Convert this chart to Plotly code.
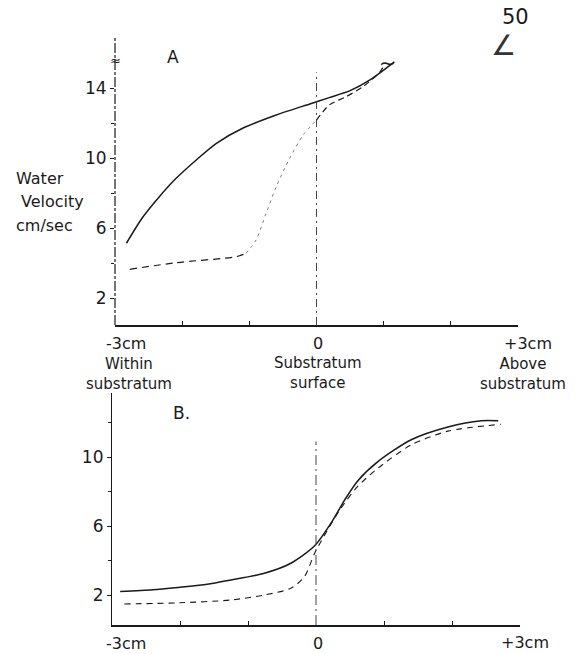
import plotly.graph_objects as go

# ---------------- data ----------------
# Panel A
a_solid_x = [-2.83, -2.59, -2.34, -2.09, -1.79, -1.49, -1.10, -0.60, -0.10, 0.19, 0.50, 0.79, 1.16]
a_solid_y = [5.13, 6.6, 7.79, 8.84, 9.89, 10.84, 11.70, 12.46, 13.09, 13.45, 13.85, 14.45, 15.5]

a_dash_x = [-2.78, -2.09, -1.20, -1.05]
a_dash_y = [3.64, 4.02, 4.36, 4.55]

a_dot_x = [-1.05, -0.90, -0.75, -0.60, -0.40, -0.20, 0.0]
a_dot_y = [4.55, 5.31, 6.84, 8.36, 9.98, 11.31, 12.17]

a_dash2_x = [0.0, 0.19, 0.44, 0.70, 0.94, 1.0]
a_dash2_y = [12.17, 13.03, 13.5, 14.1, 14.9, 15.25]

a_surface_y = [0.46, 14.9]

# Panel B
b_solid_x = [-2.88, -2.4, -2.0, -1.6, -1.25, -0.76, -0.37, -0.02, 0.22, 0.42, 0.61, 0.91, 1.40, 1.94, 2.43, 2.68]
b_solid_y = [2.2, 2.3, 2.45, 2.62, 2.87, 3.26, 3.84, 4.85, 6.16, 7.5, 8.6, 9.73, 11.0, 11.74, 12.1, 12.1]

b_dash_x = [-2.82, -2.0, -1.25, -0.76, -0.37, -0.17, -0.02, 0.17, 0.37, 0.61, 0.91, 1.40, 1.94, 2.72]
b_dash_y = [1.48, 1.55, 1.71, 2.0, 2.39, 3.06, 4.42, 5.77, 7.05, 8.28, 9.35, 10.7, 11.5, 11.9]

b_surface_y = [0.26, 10.9]

y_ticks = [2, 6, 10, 14]
y_minor = [4, 8, 12]
b_y_ticks = [2, 6, 10]
x_minor = [-2, -1, 1, 2]

W, H = 578, 654
FONT = "DejaVu Sans"
INK = "#1a1a1a"


def px(x):
    return x / W


def py(y):
    return 1 - y / H


fig = go.Figure()

spl = dict(shape="spline", smoothing=0.75)

# Panel A traces
fig.add_trace(go.Scatter(x=a_solid_x, y=a_solid_y, mode="lines", line=dict(color=INK, width=1.5, **spl),
                         xaxis="x", yaxis="y"))
fig.add_trace(go.Scatter(x=a_dash_x, y=a_dash_y, mode="lines", line=dict(color=INK, width=1.2, dash="7px,5px", **spl),
                         xaxis="x", yaxis="y"))
fig.add_trace(go.Scatter(x=a_dot_x, y=a_dot_y, mode="lines", line=dict(color="#808080", width=1.0, dash="3px,4px", **spl),
                         xaxis="x", yaxis="y"))
fig.add_trace(go.Scatter(x=a_dash2_x, y=a_dash2_y, mode="lines", line=dict(color=INK, width=1.2, dash="6px,4px", **spl),
                         xaxis="x", yaxis="y"))
fig.add_trace(go.Scatter(x=[0, 0], y=a_surface_y, mode="lines", line=dict(color="#444444", width=1.0, dash="8px,4px,2px,4px"),
                         xaxis="x", yaxis="y"))

# Panel B traces
fig.add_trace(go.Scatter(x=b_solid_x, y=b_solid_y, mode="lines", line=dict(color=INK, width=1.5, **spl),
                         xaxis="x2", yaxis="y2"))
fig.add_trace(go.Scatter(x=b_dash_x, y=b_dash_y, mode="lines", line=dict(color=INK, width=1.1, dash="6px,5px", **spl),
                         xaxis="x2", yaxis="y2"))
fig.add_trace(go.Scatter(x=[0, 0], y=b_surface_y, mode="lines", line=dict(color="#444444", width=1.0, dash="10px,4px,2px,4px"),
                         xaxis="x2", yaxis="y2"))

tickfont = dict(family=FONT, size=17, color=INK)

common_x = dict(range=[-3, 3], showgrid=False, zeroline=False, showline=True, linecolor=INK, linewidth=1.5,
                tickvals=x_minor, ticktext=["", "", "", ""], ticks="inside", ticklen=4, tickcolor=INK, fixedrange=True)

fig.update_layout(
    width=W, height=H,
    margin=dict(l=0, r=0, t=0, b=0),
    paper_bgcolor="white", plot_bgcolor="white",
    showlegend=False,
    xaxis=dict(domain=[px(115), px(518)], anchor="y", **common_x),
    yaxis=dict(domain=[py(325), py(38)], range=[0.457, 16.86], anchor="x", showgrid=False, zeroline=False,
               showline=False, tickvals=y_ticks, ticks="outside", ticklen=4, tickcolor=INK, tickfont=tickfont,
               minor=dict(tickvals=y_minor, ticks="outside", ticklen=3, tickcolor=INK), fixedrange=True),
    xaxis2=dict(domain=[px(112), px(520)], anchor="y2", **common_x),
    yaxis2=dict(domain=[py(625), py(393)], range=[0.261, 13.71], anchor="x2", showgrid=False, zeroline=False,
                showline=True, linecolor=INK, linewidth=1.2, tickvals=b_y_ticks, ticks="outside", ticklen=4,
                tickcolor=INK, tickfont=tickfont,
                minor=dict(tickvals=y_minor, ticks="outside", ticklen=3, tickcolor=INK), fixedrange=True),
)

# dashed y-axis line of panel A
fig.add_shape(type="line", xref="x domain", yref="y domain", x0=0, x1=0, y0=0, y1=1,
              line=dict(color=INK, width=1.2, dash="10px,2px,3px,2px"))


def note(text, x, y, size=16, xanchor="center", color=INK, align="center", **kw):
    fig.add_annotation(text=text, x=px(x), y=py(y), xref="paper", yref="paper", showarrow=False,
                       xanchor=xanchor, yanchor="middle", align=align,
                       font=dict(family=FONT, size=size, color=color), **kw)


note("A", 173, 57, size=17)
note("B.", 181, 413, size=17)
note("50", 515, 17, size=21)
note("∠", 503, 46, size=28, color="#333333")
note("≈", 115, 60, size=13)
note("∼", 387, 63, size=20)

note("Water", 14, 178, xanchor="left")
note("Velocity", 19, 201, xanchor="left")
note("cm/sec", 14, 225, xanchor="left")

note("-3cm", 126, 343)
note("0", 318, 343)
note("+3cm", 528, 343)
note("Within<br>substratum", 129, 374, size=15)
note("Substratum<br>surface", 318, 373, size=15)
note("Above<br>substratum", 523, 374, size=15)

note("-3cm", 126, 643)
note("0", 318, 643)
note("+3cm", 525, 642)

fig.write_html("out.html")
